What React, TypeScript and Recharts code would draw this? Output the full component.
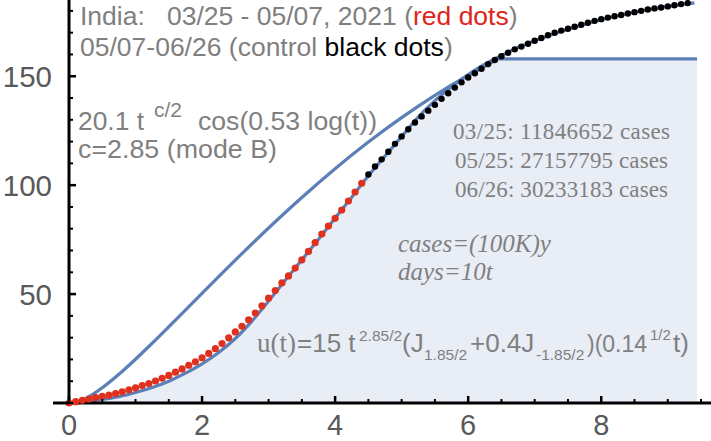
import React from 'react';
import { ComposedChart, XAxis, YAxis, Line, Area, Scatter } from 'recharts';

// cumulative new cases since 03/25 in units of 100K, one value per day (t = day/10)
const RED_VALUES = [0, 0.59, 1.21, 1.84, 2.52, 3.08, 3.61, 4.33, 5.14, 6.03, 6.96, 7.99, 8.96, 10.11, 11.37, 12.68, 14.13, 15.65, 17.33, 18.94, 20.78, 22.78, 24.95, 27.29, 29.9, 32.63, 35.22, 38.17, 41.32, 44.64, 48.1, 51.59, 55.11, 58.34, 61.94, 65.73, 69.59, 73.61, 77.53, 81.21, 84.78, 88.6, 92.72, 96.86, 100.87];
const BLACK_FIRST_DAY = 45;
const BLACK_VALUES = [104.91, 108.57, 111.86, 115.34, 118.96, 122.39, 125.65, 128.76, 131.57, 134.2, 136.87, 139.63, 142.22, 144.79, 147.2, 149.42, 151.38, 153.46, 155.57, 157.43, 159.16, 160.81, 162.34, 163.61, 164.93, 166.27, 167.59, 168.8, 169.94, 170.95, 171.81, 172.73, 173.67, 174.58, 175.42, 176.22, 176.92, 177.52, 178.14, 178.81, 179.43, 180.03, 180.61, 181.14, 181.56, 182.06, 182.6, 183.11, 183.59];

// fitted curve u(t) (lower blue curve)
const FIT_T = [0, 0.25, 0.5, 0.75, 1, 1.25, 1.5, 1.75, 2, 2.25, 2.5, 2.75, 3, 3.25, 3.5, 3.75, 4, 4.25, 4.5, 4.75, 5, 5.25, 5.5, 5.75, 6, 6.25, 6.5, 6.75, 7, 7.5, 8, 8.5, 9, 9.4];
const FIT_V = [0, 0.6, 1.6, 2.9, 4.8, 7.1, 10.0, 13.7, 18.0, 23.2, 29.6, 37.6, 46.8, 56.3, 65.7, 75.2, 84.9, 94.5, 104.3, 113.4, 122.3, 131.3, 138.8, 145.2, 150.8, 155.5, 159.5, 163.2, 166.3, 171.6, 176.0, 179.4, 182.0, 183.7];

// mode B curve 20.1 t^{c/2} cos(0.53 log t)
const MODE_T = [0, 0.1, 0.25, 0.5, 0.75, 1, 1.25, 1.5, 1.75, 2, 2.5, 3, 3.5, 4, 4.5, 5, 5.5, 6, 6.25, 6.45];
const MODE_V = [0, 0.26, 2.07, 6.99, 13.19, 20.1, 27.43, 35.0, 42.67, 50.37, 65.6, 80.34, 94.36, 107.54, 119.8, 131.0, 141.22, 150.35, 154.52, 158];

// plateau
const PLATEAU_LEVEL = 158;
const PLATEAU_T = [6.42, 9.44];

const X_TICKS = [0, 0.5, 1, 1.5, 2, 2.5, 3, 3.5, 4, 4.5, 5, 5.5, 6, 6.5, 7, 7.5, 8, 8.5, 9, 9.5];
const X_LABELS = [0, 2, 4, 6, 8];
const Y_TICKS = [0, 10, 20, 30, 40, 50, 60, 70, 80, 90, 100, 110, 120, 130, 140, 150, 160, 170, 180];
const Y_LABELS = [50, 100, 150];

const BLUE = '#5b7fb7';
const FILL = '#e8edf6';
const GRAY = '#808080';
const TICK_GRAY = '#595959';
const SANS = '"Liberation Sans", Arial, sans-serif';
const SERIF = '"Liberation Serif", "Times New Roman", serif';

const redDots = RED_VALUES.map((v, i) => ({ t: i / 10, v }));
const blackDots = BLACK_VALUES.map((v, i) => ({ t: (BLACK_FIRST_DAY + i) / 10, v }));
const fitData = FIT_T.map((t, i) => ({ t, v: FIT_V[i] }));
const modeData = MODE_T.map((t, i) => ({ t, v: MODE_V[i] }));
const plateauData = PLATEAU_T.map((t) => ({ t, v: PLATEAU_LEVEL }));
const fillData = [
  ...fitData.filter((d) => d.v < PLATEAU_LEVEL && d.t < PLATEAU_T[0]),
  ...plateauData,
];

const XTick = (props: any) => {
  const { x, y, payload } = props;
  const v = payload.value;
  const major = X_LABELS.includes(v);
  return (
    <g>
      <line x1={x} x2={x} y1={y} y2={y - (major ? 7 : 4)} stroke="#000" strokeWidth={major ? 2.5 : 2} />
      {major && (
        <text x={x} y={y + 32} textAnchor="middle" fontSize={29} fill={TICK_GRAY} fontFamily={SANS}>
          {v}
        </text>
      )}
    </g>
  );
};

const YTick = (props: any) => {
  const { x, y, payload } = props;
  const v = payload.value;
  const major = Y_LABELS.includes(v);
  return (
    <g>
      <line x1={x} x2={x + (major ? 7 : 4)} y1={y} y2={y} stroke="#000" strokeWidth={major ? 2.5 : 2} />
      {v === 0 && <line x1={x - 16} x2={x} y1={y} y2={y} stroke="#000" strokeWidth={3} />}
      {major && (
        <text x={x - 17} y={y} dy="0.36em" textAnchor="end" fontSize={29.5} fill={TICK_GRAY} fontFamily={SANS}>
          {v}
        </text>
      )}
    </g>
  );
};

const RedDot = (p: any) => <circle cx={p.cx} cy={p.cy} r={3.6} fill="#e0301e" />;
const BlackDot = (p: any) => <circle cx={p.cx} cy={p.cy} r={3.2} fill="#000" />;

export default function App() {
  return (
    <div style={{ position: 'absolute', left: 0, top: 0, width: 711, height: 441, background: '#fff' }}>
      <ComposedChart width={711} height={441} margin={{ top: 0, right: 0, bottom: 0, left: 0 }}>
        <Area data={fillData} dataKey="v" type="monotone" stroke="none" fill={FILL} fillOpacity={1} isAnimationActive={false} />
        <Line data={plateauData} dataKey="v" type="linear" stroke={BLUE} strokeWidth={3.2} dot={false} isAnimationActive={false} />
        <Scatter data={blackDots} dataKey="v" shape={BlackDot} isAnimationActive={false} />
        <Line data={modeData} dataKey="v" type="monotone" stroke={BLUE} strokeWidth={3.2} dot={false} isAnimationActive={false} />
        <Line data={fitData} dataKey="v" type="monotone" stroke={BLUE} strokeWidth={3.2} dot={false} isAnimationActive={false} />
        <Scatter data={redDots} dataKey="v" shape={RedDot} isAnimationActive={false} />
        <XAxis
          dataKey="t"
          type="number"
          domain={[0, 9.65]}
          ticks={X_TICKS}
          interval={0}
          height={38}
          tickSize={0}
          tickMargin={0}
          tickLine={false}
          axisLine={{ stroke: '#000', strokeWidth: 3 }}
          tick={<XTick />}
        />
        <YAxis
          type="number"
          domain={[0, 185]}
          ticks={Y_TICKS}
          interval={0}
          width={69}
          tickSize={0}
          tickMargin={0}
          tickLine={false}
          axisLine={{ stroke: '#000', strokeWidth: 3 }}
          tick={<YTick />}
        />
      </ComposedChart>
      <svg width={711} height={441} style={{ position: 'absolute', left: 0, top: 0, pointerEvents: 'none' }}>
        <g fontFamily={SANS} fill={GRAY} fontSize={26.5} style={{ whiteSpace: 'pre' }}>
          <text x={80} y={25} xmlSpace="preserve">
            {'India:   03/25 - 05/07, 2021 ('}
            <tspan fill="#e0241a">red dots</tspan>
            {')'}
          </text>
          <text x={80} y={56} xmlSpace="preserve">
            {'05/07-06/26 (control '}
            <tspan fill="#000">black dots</tspan>
            {')'}
          </text>
          <text x={78} y={130} fontSize={25} textLength={66} lengthAdjust="spacingAndGlyphs">20.1 t</text>
          <text x={154} y={117} fontSize={21}>c/2</text>
          <text x={198} y={130} fontSize={25} textLength={179} lengthAdjust="spacingAndGlyphs">cos(0.53 log(t))</text>
          <text x={78} y={158} fontSize={25} textLength={199} lengthAdjust="spacingAndGlyphs">c=2.85 (mode B)</text>
        </g>
        <g fontFamily={SERIF} fill={GRAY} fontSize={23}>
          <text x={453} y={139} textLength={217} lengthAdjust="spacing">03/25: 11846652 cases</text>
          <text x={455} y={168} textLength={213} lengthAdjust="spacing">05/25: 27157795 cases</text>
          <text x={455} y={197} textLength={213} lengthAdjust="spacing">06/26: 30233183 cases</text>
          <text x={398} y={252} fontSize={25} fontStyle="italic">cases=(100K)y</text>
          <text x={398} y={280} fontSize={25} fontStyle="italic">days=10t</text>
        </g>
        <g fontFamily={SANS} fill={GRAY} fontSize={26}>
          <text x={257} y={352} fontFamily={SERIF} fontSize={27}>u(t)</text>
          <text x={297} y={352}>=15 t</text>
          <text x={359} y={341} fontSize={15.5}>2.85/2</text>
          <text x={402} y={352}>(J</text>
          <text x={424} y={360} fontSize={15.5}>1.85/2</text>
          <text x={470} y={352}>+0.4J</text>
          <text x={536} y={360} fontSize={15.5}>-1.85/2</text>
          <text x={587} y={352} fontSize={23}>)(0.14</text>
          <text x={650} y={340} fontSize={15}>1/2</text>
          <text x={673} y={352}>t)</text>
        </g>
      </svg>
    </div>
  );
}
